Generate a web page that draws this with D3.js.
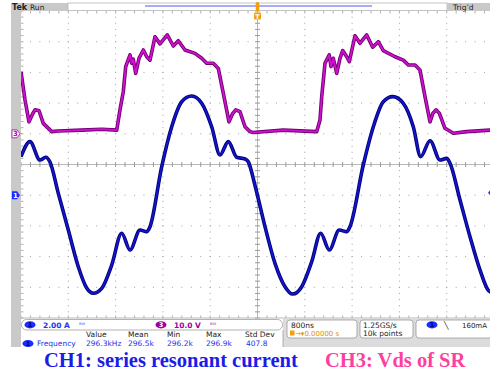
<!DOCTYPE html>
<html><head><meta charset="utf-8">
<script src="https://cdn.jsdelivr.net/npm/d3@7"></script>
<style>body{margin:0;background:#fff}svg{display:block}</style>
</head><body><svg id="c" width="490" height="373"></svg>
<script>
// CH1: series resonant current (time in ns, current in A)
const ch1Time = [-4000,-3848,-3679,-3582,-3510,-3369,-3200,-3031,-2889,-2777,-2635,-2466,-2297,-2156,-1987,-1874,-1818,-1620,-1451,-1282,-1113,-944,-775,-634,-494,-352,-211,-156,-40,127,296,465,595,748,917,1069,1214,1383,1509,1564,1789,1959,2128,2287,2466,2635,2760,2918,3087,3200,3256,3425,3594,3763,3904,4000];
const ch1Amps = [2.51,3.49,2.29,2.47,2.16,0.12,-2.27,-4.66,-6.05,-6.39,-6.07,-4.55,-2.48,-3.57,-2.27,-2.38,-2.05,1.86,4.46,6.09,6.46,5.99,4.46,2.62,3.49,2.47,2.36,2.18,0.6,-2.05,-4.44,-5.96,-6.44,-5.96,-4.33,-2.48,-3.57,-2.27,-2.38,-2.05,1.97,4.46,6.09,6.42,5.99,4.46,2.51,3.55,2.29,2.40,2.08,-0.31,-2.70,-4.87,-6.2,-6.4];
// CH3: Vds of SR (time in ns, voltage in V)
const ch3Time = [-4000,-3932,-3865,-3800,-3763,-3695,-3623,-3481,-3369,-2973,-2635,-2381,-2326,-2270,-2229,-2156,-2128,-2101,-2060,-2004,-1931,-1874,-1818,-1734,-1649,-1526,-1424,-1340,-1226,-1057,-944,-859,-748,-663,-578,-482,-420,-369,-296,-211,-127,-76,436,1001,1057,1086,1142,1214,1243,1282,1340,1395,1441,1509,1553,1649,1734,1847,1948,2043,2128,2326,2466,2551,2664,2748,2833,2918,2965,3019,3075,3171,3312,3538,3932,4000];
const ch3Volts = [20.2,11.0,3.9,6.6,7.8,7.5,3.4,0.7,0.9,1.2,1.5,1.2,7.8,13.7,21.9,25.7,23.0,24.3,19.7,24.6,27.3,25.1,24.0,31.6,29.3,32.2,28.6,30.3,27.3,26.2,24.6,23.0,23.0,21.3,13.2,3.9,6.6,7.8,7.2,2.3,0.7,0.4,1.2,0.7,4.5,12.1,23.0,25.7,21.9,24.6,19.7,24.6,27.1,25.1,23.5,31.9,29.5,32.2,28.2,30.0,27.1,25.1,24.0,22.4,22.4,20.8,12.1,3.9,6.6,7.8,6.7,1.8,0.2,0.7,1.2,1.1];

// Readouts
const measHeaders = ["Value","Mean","Min","Max","Std Dev"];
const measValues = ["296.3kHz","296.5k","296.2k","296.9k","407.8"];
const ch1Scale = "2.00 A";
const ch3Scale = "10.0 V";
const timeBase = "800ns";
const triggerPos = "0.00000 s";
const sampleRate = "1.25GS/s";
const recordLen = "10k points";
const trigLevel = "160mA";
const captions = ["CH1: series resonant current", "CH3: Vds of SR"];

const svg = d3.select("#c");
const G = {l:21, r:494, t:11, b:318};

// 10 horizontal divisions of 800 ns, 10 vertical divisions
const x = d3.scaleLinear().domain([-4000, 4000]).range([G.l, G.r]);
const yDiv = d3.scaleLinear().domain([-5, 5]).range([G.b, G.t]);
const yA = d3.scaleLinear().domain([-8, 12]).range([G.b, G.t]);   // 2 A/div, ground 1 div below centre
const yV = d3.scaleLinear().domain([-60, 40]).range([G.b, G.t]);  // 10 V/div, ground 1 div above centre

const gridCol = "#a0a0a0";
const grid = svg.append("g");

// dotted graticule lines
for (let d = -4; d <= 4; d++) {
  if (d === 0) continue;
  const gx = x(d * 800);
  for (let s = -5; s <= 5.001; s += 0.2)
    grid.append("rect").attr("x", gx - 0.5).attr("y", yDiv(s) - 0.5).attr("width", 1).attr("height", 1).attr("fill", gridCol);
}
for (let d = -4; d <= 4; d++) {
  if (d === 0) continue;
  const gy = yDiv(d);
  for (let s = -4000; s <= 4000; s += 160)
    grid.append("rect").attr("x", x(s) - 0.5).attr("y", gy - 0.5).attr("width", 1).attr("height", 1).attr("fill", gridCol);
}
// centre cross with minor ticks
grid.append("line").attr("x1", G.l).attr("x2", G.r).attr("y1", yDiv(0)).attr("y2", yDiv(0)).attr("stroke", "#b8b8b8").attr("stroke-width", 1);
grid.append("line").attr("x1", x(0)).attr("x2", x(0)).attr("y1", G.t).attr("y2", G.b).attr("stroke", "#b8b8b8").attr("stroke-width", 1);
for (let s = -4000; s <= 4000; s += 160) {
  grid.append("line").attr("x1", x(s)).attr("x2", x(s)).attr("y1", yDiv(0) - 2.5).attr("y2", yDiv(0) + 2.5).attr("stroke", "#9a9a9a");
  grid.append("line").attr("x1", x(s)).attr("x2", x(s)).attr("y1", G.t).attr("y2", G.t + 2.5).attr("stroke", "#b0b0b0");
  grid.append("line").attr("x1", x(s)).attr("x2", x(s)).attr("y1", G.b - 2.5).attr("y2", G.b).attr("stroke", "#b0b0b0");
}
for (let s = -5; s <= 5.001; s += 0.2) {
  grid.append("line").attr("x1", x(0) - 2.5).attr("x2", x(0) + 2.5).attr("y1", yDiv(s)).attr("y2", yDiv(s)).attr("stroke", "#9a9a9a");
  grid.append("line").attr("x1", G.l).attr("x2", G.l + 2.5).attr("y1", yDiv(s)).attr("y2", yDiv(s)).attr("stroke", "#b0b0b0");
}
grid.append("line").attr("x1", G.l).attr("x2", G.r).attr("y1", G.b).attr("y2", G.b).attr("stroke", "#b8b8b8");

// traces
svg.append("clipPath").attr("id", "plot").append("rect").attr("x", G.l).attr("y", G.t).attr("width", G.r - G.l).attr("height", G.b - G.t);
const traces = svg.append("g").attr("clip-path", "url(#plot)");

const ch3 = d3.zip(ch3Time, ch3Volts);
const ch1 = d3.zip(ch1Time, ch1Amps);
const line3 = d3.line().x(d => x(d[0])).y(d => yV(d[1])).curve(d3.curveLinear);
const line1 = d3.line().x(d => x(d[0])).y(d => yA(d[1])).curve(d3.curveMonotoneX);

traces.append("path").attr("d", line3(ch3)).attr("fill", "none").attr("stroke", "#6e006e").attr("stroke-width", 3.6).attr("stroke-linejoin", "round");
traces.append("path").attr("d", line3(ch3)).attr("fill", "none").attr("stroke", "#d010d0").attr("stroke-width", 1.8).attr("stroke-linejoin", "round");
traces.append("path").attr("d", line1(ch1)).attr("fill", "none").attr("stroke", "#00007a").attr("stroke-width", 3.6).attr("stroke-linejoin", "round");
traces.append("path").attr("d", line1(ch1)).attr("fill", "none").attr("stroke", "#1515c8").attr("stroke-width", 1.8).attr("stroke-linejoin", "round");

// frame: left bar, header, status area
const ui = svg.append("g").attr("font-family", "DejaVu Sans");
ui.append("rect").attr("x", 11).attr("y", 3).attr("width", 10).attr("height", 344).attr("fill", "#c9c9c9");
ui.append("rect").attr("x", 11).attr("y", 3).attr("width", 57).attr("height", 8).attr("fill", "#c9c9c9");
ui.append("rect").attr("x", 68).attr("y", 3).attr("width", 379).attr("height", 7.5).attr("fill", "#fff").attr("stroke", "#b5b5b5").attr("stroke-width", 0.8);
ui.append("rect").attr("x", 447).attr("y", 3).attr("width", 43).attr("height", 8).attr("fill", "#c9c9c9");
ui.append("line").attr("x1", 145).attr("x2", 372).attr("y1", 6).attr("y2", 6).attr("stroke", "#8d8dff").attr("stroke-width", 1.3);
ui.append("text").attr("x", 12).attr("y", 10).attr("font-size", 8).attr("font-weight", "bold").attr("fill", "#222").text("Tek");
ui.append("text").attr("x", 30).attr("y", 10).attr("font-size", 7.5).attr("fill", "#222").text("Run");
ui.append("text").attr("x", 453).attr("y", 10).attr("font-size", 7.5).attr("fill", "#222").text("Trig\u2019d");

// trigger position marker
ui.append("rect").attr("x", x(0) - 1.8).attr("y", 2).attr("width", 3.6).attr("height", 9).attr("rx", 1.5).attr("fill", "#f0a010");
ui.append("rect").attr("x", x(0) - 3.5).attr("y", 12.5).attr("width", 7).attr("height", 7).attr("rx", 1).attr("fill", "#f0a010");
ui.append("text").attr("x", x(0)).attr("y", 18.5).attr("text-anchor", "middle").attr("font-size", 6.5).attr("font-weight", "bold").attr("fill", "#fff").text("T");

// channel ground markers
const m3y = yV(0), m1y = yA(0);
ui.append("path").attr("d", `M12,${m3y-4} h5 l3,4 l-3,4 h-5 z`).attr("fill", "#fff").attr("stroke", "#b000b0").attr("stroke-width", 0.8);
ui.append("text").attr("x", 15.5).attr("y", m3y + 2.5).attr("text-anchor", "middle").attr("font-size", 7).attr("font-weight", "bold").attr("fill", "#b000b0").text("3");
ui.append("path").attr("d", `M12,${m1y-4} h5 l3,4 l-3,4 h-5 z`).attr("fill", "#1a2cff");
ui.append("text").attr("x", 15.5).attr("y", m1y + 2.5).attr("text-anchor", "middle").attr("font-size", 7).attr("font-weight", "bold").attr("fill", "#fff").text("1");
// trigger level marker at right edge
ui.append("path").attr("d", `M490,${yA(0.16)-2.5} l-2,2.5 l2,2.5 z`).attr("fill", "#2a3cff");

// status area
ui.append("rect").attr("x", 283).attr("y", 318.5).attr("width", 207).attr("height", 28.5).attr("fill", "#dcdcdc");
ui.append("rect").attr("x", 21).attr("y", 330).attr("width", 262).attr("height", 17).attr("fill", "#fff");
ui.append("rect").attr("x", 21.5).attr("y", 319.5).attr("width", 261).attr("height", 10.5).attr("rx", 5).attr("fill", "#fff").attr("stroke", "#a0a0a0").attr("stroke-width", 0.8);
ui.append("line").attr("x1", 283).attr("x2", 283).attr("y1", 330).attr("y2", 347).attr("stroke", "#a0a0a0").attr("stroke-width", 0.8);

function badge(cx, cy, label, fill, txt) {
  ui.append("ellipse").attr("cx", cx).attr("cy", cy).attr("rx", 5.5).attr("ry", 3.6).attr("fill", fill);
  ui.append("text").attr("x", cx).attr("y", cy + 2.4).attr("text-anchor", "middle").attr("font-size", 6.5).attr("font-weight", "bold").attr("fill", txt).text(label);
}
badge(30, 324.8, "1", "#1a2cff", "#00006a");
ui.append("text").attr("x", 43).attr("y", 327.5).attr("font-size", 7.5).attr("font-weight", "bold").attr("fill", "#2233ee").text(ch1Scale);
ui.append("text").attr("x", 79).attr("y", 327).attr("font-size", 6).attr("fill", "#5566ff").text("\u1d2e\u1d42");
badge(161, 324.8, "3", "#a000a0", "#fff");
ui.append("text").attr("x", 174).attr("y", 327.5).attr("font-size", 7.5).attr("font-weight", "bold").attr("fill", "#a000a0").text(ch3Scale);
ui.append("text").attr("x", 210).attr("y", 327).attr("font-size", 6).attr("fill", "#b040b0").text("\u1d2e\u1d42");

const colX = [86, 128, 167, 206, 245];
measHeaders.forEach((h, i) => ui.append("text").attr("x", colX[i]).attr("y", 337).attr("font-size", 7.5).attr("fill", "#222").text(h));
badge(28, 343.5, "1", "#1a2cff", "#00006a");
ui.append("text").attr("x", 37).attr("y", 346).attr("font-size", 7.5).attr("fill", "#2233ee").text("Frequency");
measValues.forEach((v, i) => ui.append("text").attr("x", colX[i] + (i === 4 ? 1 : 0)).attr("y", 346).attr("font-size", 7.5).attr("fill", "#2233ee").text(v));

// timebase / acquisition / trigger boxes
function box(x0, w) {
  ui.append("rect").attr("x", x0).attr("y", 320).attr("width", w).attr("height", 18).attr("rx", 3).attr("fill", "#fff").attr("stroke", "#9a9a9a").attr("stroke-width", 0.8);
}
box(287, 70); box(360, 53); box(416, 80);
ui.append("text").attr("x", 291).attr("y", 327.5).attr("font-size", 7.5).attr("fill", "#222").text(timeBase);
ui.append("rect").attr("x", 290).attr("y", 330.5).attr("width", 4.5).attr("height", 5).attr("fill", "#f0a010");
ui.append("text").attr("x", 295).attr("y", 336).attr("font-size", 7).attr("fill", "#e09000").text("\u2192\u25be" + triggerPos);
ui.append("text").attr("x", 363).attr("y", 327.5).attr("font-size", 7.5).attr("fill", "#222").text(sampleRate);
ui.append("text").attr("x", 363).attr("y", 336).attr("font-size", 7.5).attr("fill", "#222").text(recordLen);
badge(432, 324.8, "1", "#1a2cff", "#00006a");
ui.append("text").attr("x", 444).attr("y", 327.5).attr("font-size", 7.5).attr("fill", "#222").text("\u2572");
ui.append("text").attr("x", 462).attr("y", 327.5).attr("font-size", 7).attr("fill", "#222").text(trigLevel);

// captions
svg.append("text").attr("x", 44).attr("y", 367).attr("font-family", "Liberation Serif").attr("font-weight", "bold").attr("font-size", 20.5).attr("fill", "#1c1ce8").text(captions[0]);
svg.append("text").attr("x", 325).attr("y", 367).attr("font-family", "Liberation Serif").attr("font-weight", "bold").attr("font-size", 20.5).attr("fill", "#ff3fa0").text(captions[1]);
</script></body></html>
